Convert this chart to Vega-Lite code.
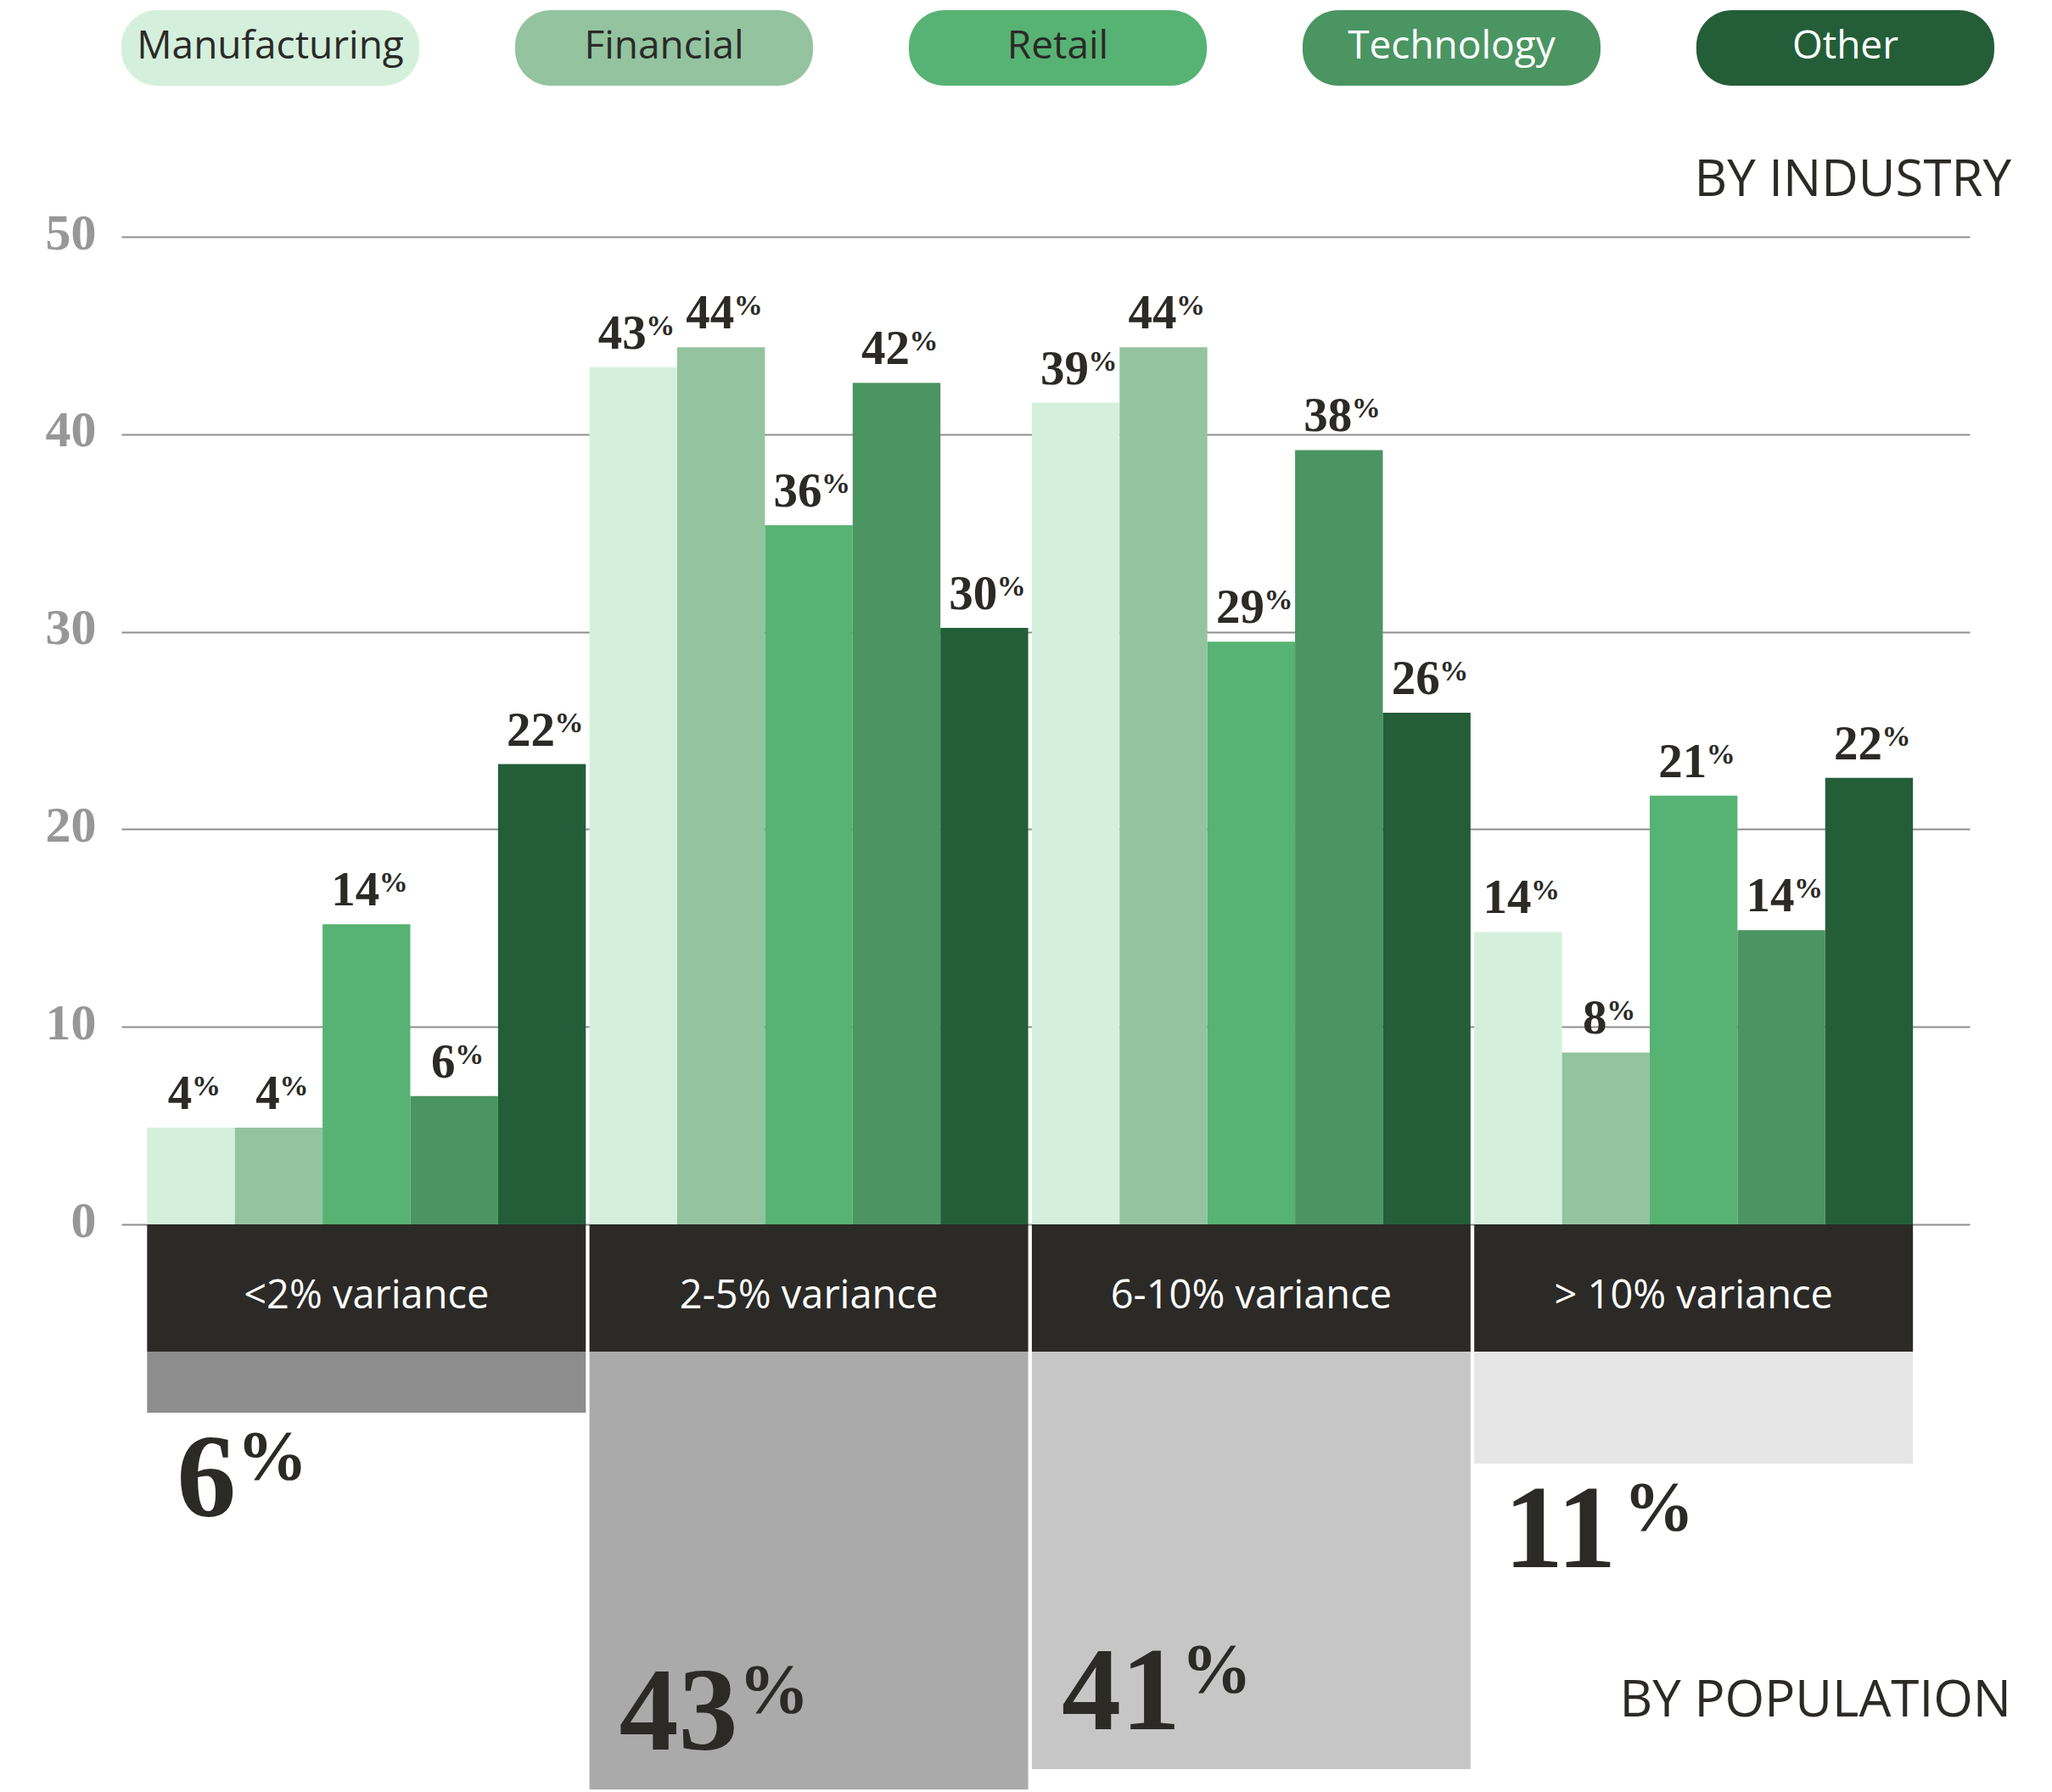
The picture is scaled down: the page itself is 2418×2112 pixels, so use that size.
{
  "$schema": "https://vega.github.io/schema/vega-lite/v6.json",
  "padding": {"left": 53, "top": 12, "right": 0, "bottom": 0},
  "background": "white",
  "config": {"view": {"stroke": null}},
  "bounds": "flush",
  "spacing": 0,
  "resolve": {"scale": {"color": "independent"}},
  "datasets": {
    "legend": [
      {"industry": "Manufacturing", "row": "pill"},
      {"industry": "Financial", "row": "pill"},
      {"industry": "Retail", "row": "pill"},
      {"industry": "Technology", "row": "pill"},
      {"industry": "Other", "row": "pill"}
    ],
    "bars": [
      {"variance": "<2% variance", "industry": "Manufacturing", "value": 4.9, "label": 4},
      {"variance": "<2% variance", "industry": "Financial", "value": 4.9, "label": 4},
      {"variance": "<2% variance", "industry": "Retail", "value": 15.2, "label": 14},
      {"variance": "<2% variance", "industry": "Technology", "value": 6.5, "label": 6},
      {"variance": "<2% variance", "industry": "Other", "value": 23.3, "label": 22},
      {"variance": "2-5% variance", "industry": "Manufacturing", "value": 43.4, "label": 43},
      {"variance": "2-5% variance", "industry": "Financial", "value": 44.4, "label": 44},
      {"variance": "2-5% variance", "industry": "Retail", "value": 35.4, "label": 36},
      {"variance": "2-5% variance", "industry": "Technology", "value": 42.6, "label": 42},
      {"variance": "2-5% variance", "industry": "Other", "value": 30.2, "label": 30},
      {"variance": "6-10% variance", "industry": "Manufacturing", "value": 41.6, "label": 39},
      {"variance": "6-10% variance", "industry": "Financial", "value": 44.4, "label": 44},
      {"variance": "6-10% variance", "industry": "Retail", "value": 29.5, "label": 29},
      {"variance": "6-10% variance", "industry": "Technology", "value": 39.2, "label": 38},
      {"variance": "6-10% variance", "industry": "Other", "value": 25.9, "label": 26},
      {"variance": "> 10% variance", "industry": "Manufacturing", "value": 14.8, "label": 14},
      {"variance": "> 10% variance", "industry": "Financial", "value": 8.7, "label": 8},
      {"variance": "> 10% variance", "industry": "Retail", "value": 21.7, "label": 21},
      {"variance": "> 10% variance", "industry": "Technology", "value": 14.9, "label": 14},
      {"variance": "> 10% variance", "industry": "Other", "value": 22.6, "label": 22}
    ],
    "pop": [
      {"variance": "<2% variance", "pop": 6},
      {"variance": "2-5% variance", "pop": 43},
      {"variance": "6-10% variance", "pop": 41},
      {"variance": "> 10% variance", "pop": 11}
    ]
  },
  "vconcat": [
    {
      "width": 2207,
      "height": 267,
      "data": {"name": "legend"},
      "encoding": {
        "x": {"field": "industry", "type": "nominal", "scale": {"type": "band", "domain": ["Manufacturing", "Financial", "Retail", "Technology", "Other"], "paddingInner": 0.2434, "paddingOuter": 0}, "axis": null},
        "y": {"field": "row", "type": "nominal", "scale": {"type": "band", "domain": ["pill"], "paddingInner": 0, "paddingOuter": 1.0706, "align": 0}, "axis": null}
      },
      "layer": [
        {
          "mark": {"type": "rect", "cornerRadius": 42},
          "encoding": {
            "color": {"field": "industry", "type": "nominal", "scale": {"domain": ["Manufacturing", "Financial", "Retail", "Technology", "Other"], "range": ["#d4f0dc", "#93c49f", "#57b373", "#4b9562", "#235e38"]}, "legend": null}
          }
        },
        {
          "mark": {"type": "text", "font": "Open Sans", "fontSize": 46, "baseline": "middle", "dy": -2},
          "encoding": {
            "text": {"field": "industry", "type": "nominal"},
            "color": {"condition": {"test": "datum.industry === 'Technology' || datum.industry === 'Other'", "value": "#ffffff"}, "value": "#2b2a27"}
          }
        }
      ]
    },
    {
      "width": 2178,
      "height": 1164,
      "data": {"name": "bars"},
      "title": {"text": "BY INDUSTRY", "orient": "top", "anchor": "end", "baseline": "alphabetic", "offset": 49, "dx": 49, "dy": 95, "font": "Open Sans", "fontSize": 60, "fontWeight": 500, "color": "#2b2a27"},
      "encoding": {
        "x": {"field": "variance", "type": "nominal", "scale": {"domain": ["<2% variance", "2-5% variance", "6-10% variance", "> 10% variance"], "paddingInner": 0.0083, "paddingOuter": 0.0932, "align": 0.312}, "axis": null},
        "xOffset": {"field": "industry", "type": "nominal", "scale": {"domain": ["Manufacturing", "Financial", "Retail", "Technology", "Other"], "paddingInner": 0, "paddingOuter": 0}},
        "y": {"field": "value", "type": "quantitative", "scale": {"domain": [0, 50], "nice": false},
          "axis": {"values": [0, 10, 20, 30, 40, 50], "domain": false, "ticks": false, "title": null, "labelFont": "Liberation Serif", "labelFontWeight": "bold", "labelFontSize": 60, "labelColor": "#979797", "labelPadding": 30, "labelOffset": -4, "labelFlush": false, "labelOverlap": false, "grid": true, "gridColor": "#8e8e8e", "gridWidth": 2}}
      },
      "layer": [
        {
          "mark": {"type": "bar"},
          "encoding": {
            "color": {"field": "industry", "type": "nominal", "scale": {"domain": ["Manufacturing", "Financial", "Retail", "Technology", "Other"], "range": ["#d4f0dc", "#93c49f", "#57b373", "#4b9562", "#235e38"]}, "legend": null}
          }
        },
        {
          "mark": {"type": "text", "font": "Liberation Serif", "fontWeight": "bold", "fontSize": 57, "align": "center", "baseline": "alphabetic", "dx": -13, "dy": -22, "color": "#2b2a27"},
          "encoding": {"text": {"field": "label", "type": "quantitative"}}
        },
        {
          "transform": [{"filter": "datum.label >= 10"}],
          "mark": {"type": "text", "font": "Liberation Serif", "fontWeight": "bold", "fontSize": 34, "align": "left", "baseline": "alphabetic", "dx": 15, "dy": -38, "color": "#2b2a27"},
          "encoding": {"text": {"value": "%"}}
        },
        {
          "transform": [{"filter": "datum.label < 10"}],
          "mark": {"type": "text", "font": "Liberation Serif", "fontWeight": "bold", "fontSize": 34, "align": "left", "baseline": "alphabetic", "dx": 1, "dy": -38, "color": "#2b2a27"},
          "encoding": {"text": {"value": "%"}}
        }
      ]
    },
    {
      "width": 2178,
      "height": 150,
      "data": {"name": "pop"},
      "encoding": {
        "x": {"field": "variance", "type": "nominal", "scale": {"domain": ["<2% variance", "2-5% variance", "6-10% variance", "> 10% variance"], "paddingInner": 0.0083, "paddingOuter": 0.0932, "align": 0.312}, "axis": null}
      },
      "layer": [
        {"mark": {"type": "rect", "color": "#2b2a27"}},
        {
          "mark": {"type": "text", "font": "Open Sans", "fontSize": 47, "color": "#ffffff", "baseline": "middle", "dy": 10},
          "encoding": {"text": {"field": "variance", "type": "nominal"}}
        }
      ]
    },
    {
      "width": 2178,
      "height": 516,
      "data": {"name": "pop"},
      "title": {"text": "BY POPULATION", "orient": "bottom", "anchor": "end", "baseline": "alphabetic", "offset": -86, "dx": 49, "font": "Open Sans", "fontSize": 60, "fontWeight": 500, "color": "#2b2a27"},
      "encoding": {
        "x": {"field": "variance", "type": "nominal", "scale": {"domain": ["<2% variance", "2-5% variance", "6-10% variance", "> 10% variance"], "paddingInner": 0.0083, "paddingOuter": 0.0932, "align": 0.312}, "axis": null},
        "y": {"field": "pop", "type": "quantitative", "scale": {"domain": [0, 43], "reverse": true, "nice": false}, "axis": null}
      },
      "layer": [
        {
          "mark": {"type": "bar"},
          "encoding": {
            "color": {"field": "variance", "type": "nominal", "scale": {"domain": ["<2% variance", "2-5% variance", "6-10% variance", "> 10% variance"], "range": ["#8c8d8c", "#a9aaa9", "#c5c6c5", "#e5e6e5"]}, "legend": null}
          }
        },
        {
          "transform": [{"filter": "datum.pop < 20"}],
          "mark": {"type": "text", "font": "Liberation Serif", "fontWeight": "bold", "fontSize": 140, "align": "left", "baseline": "alphabetic", "dx": 35, "dy": 122, "color": "#2b2a27"},
          "encoding": {"x": {"field": "variance", "type": "nominal", "bandPosition": 0}, "text": {"field": "pop", "type": "quantitative"}}
        },
        {
          "transform": [{"filter": "datum.pop >= 20"}],
          "mark": {"type": "text", "font": "Liberation Serif", "fontWeight": "bold", "fontSize": 140, "align": "left", "baseline": "alphabetic", "dx": 35, "dy": -47, "color": "#2b2a27"},
          "encoding": {"x": {"field": "variance", "type": "nominal", "bandPosition": 0}, "text": {"field": "pop", "type": "quantitative"}}
        },
        {
          "transform": [{"filter": "datum.pop < 10"}],
          "mark": {"type": "text", "font": "Liberation Serif", "fontWeight": "bold", "fontSize": 83, "align": "left", "baseline": "alphabetic", "dx": 106, "dy": 78, "color": "#2b2a27"},
          "encoding": {"x": {"field": "variance", "type": "nominal", "bandPosition": 0}, "text": {"value": "%"}}
        },
        {
          "transform": [{"filter": "datum.pop >= 10 && datum.pop < 20"}],
          "mark": {"type": "text", "font": "Liberation Serif", "fontWeight": "bold", "fontSize": 83, "align": "left", "baseline": "alphabetic", "dx": 176, "dy": 78, "color": "#2b2a27"},
          "encoding": {"x": {"field": "variance", "type": "nominal", "bandPosition": 0}, "text": {"value": "%"}}
        },
        {
          "transform": [{"filter": "datum.pop >= 20"}],
          "mark": {"type": "text", "font": "Liberation Serif", "fontWeight": "bold", "fontSize": 83, "align": "left", "baseline": "alphabetic", "dx": 176, "dy": -91, "color": "#2b2a27"},
          "encoding": {"x": {"field": "variance", "type": "nominal", "bandPosition": 0}, "text": {"value": "%"}}
        }
      ]
    }
  ]
}
